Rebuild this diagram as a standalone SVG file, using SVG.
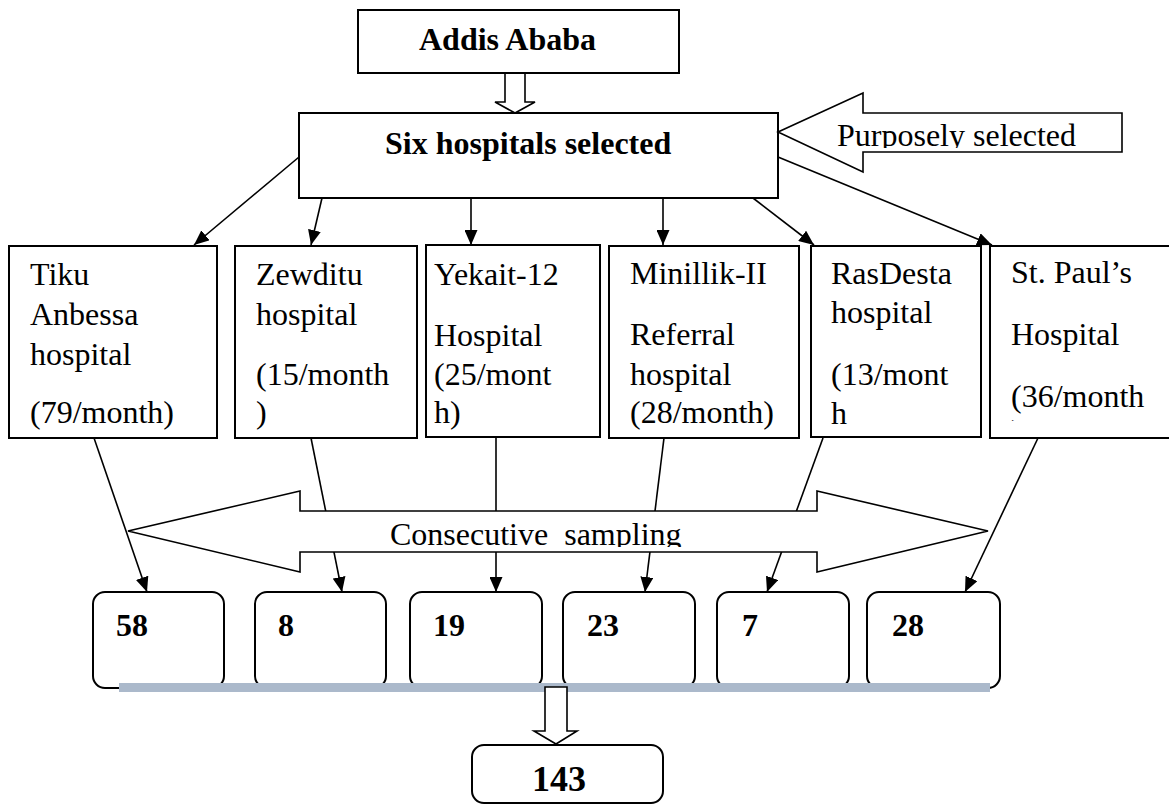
<svg xmlns="http://www.w3.org/2000/svg" width="1169" height="805" viewBox="0 0 1169 805">
<defs>
<style>
.box{fill:#fff;stroke:#000;stroke-width:2}
.rbox{fill:#fff;stroke:#000;stroke-width:2}
.hollow{fill:#fff;stroke:#000;stroke-width:1.6;stroke-linejoin:miter}
.conn{fill:none;stroke:#000;stroke-width:1.6}
.t{font-family:"Liberation Serif","Times New Roman",serif;font-size:32px;fill:#000}
.b{font-family:"Liberation Serif","Times New Roman",serif;font-size:32px;font-weight:bold;fill:#000}
</style>
<marker id="ah" markerUnits="userSpaceOnUse" markerWidth="16" markerHeight="13" refX="15" refY="6.5" orient="auto">
<path d="M0,0 L15,6.5 L0,13 z" fill="#000"/>
</marker>
<clipPath id="clipP"><rect x="830" y="100" width="290" height="48"/></clipPath>
<clipPath id="clipC"><rect x="380" y="505" width="320" height="42"/></clipPath>
<clipPath id="clipSP"><rect x="990" y="246" width="180" height="175"/></clipPath>
</defs>
<rect width="1169" height="805" fill="#fff"/>

<g id="connectors">
<line class="conn" x1="299" y1="157" x2="194" y2="245" marker-end="url(#ah)"/>
<line class="conn" x1="322" y1="198" x2="311" y2="245" marker-end="url(#ah)"/>
<line class="conn" x1="471" y1="198" x2="471" y2="245" marker-end="url(#ah)"/>
<line class="conn" x1="663" y1="198" x2="663" y2="245" marker-end="url(#ah)"/>
<line class="conn" x1="753" y1="198" x2="814" y2="245" marker-end="url(#ah)"/>
<line class="conn" x1="778" y1="157" x2="992" y2="245" marker-end="url(#ah)"/>
<line class="conn" x1="94" y1="438" x2="147" y2="592" marker-end="url(#ah)"/>
<line class="conn" x1="311" y1="438" x2="342" y2="592" marker-end="url(#ah)"/>
<line class="conn" x1="496" y1="437" x2="496" y2="592" marker-end="url(#ah)"/>
<line class="conn" x1="664" y1="438" x2="645" y2="592" marker-end="url(#ah)"/>
<line class="conn" x1="823" y1="438" x2="767" y2="592" marker-end="url(#ah)"/>
<line class="conn" x1="1038" y1="438" x2="965" y2="592" marker-end="url(#ah)"/>
<polygon class="hollow" points="505,73 525,73 525,102 535,102 515,113 495,102 505,102"/>
</g>

<g id="addis">
<rect class="box" x="358" y="10" width="321" height="63"/>
<text class="b" x="419" y="50">Addis Ababa</text>
</g>

<g id="six">
<rect class="box" x="299" y="113" width="479" height="85"/>
<text class="b" x="385" y="154">Six hospitals selected</text>
</g>

<g id="purposely">
<polygon class="hollow" points="778,132 863,93 863,113 1122,113 1122,152 863,152 863,172"/>
<text class="t" x="837" y="146" clip-path="url(#clipP)">Purposely selected</text>
</g>

<g id="tiku">
<rect class="box" x="9" y="246" width="208" height="192"/>
<text class="t"><tspan x="30" y="285">Tiku</tspan><tspan x="30" y="325">Anbessa</tspan><tspan x="30" y="365">hospital</tspan><tspan x="30" y="423">(79/month)</tspan></text>
</g>

<g id="zewditu">
<rect class="box" x="235" y="246" width="182" height="192"/>
<text class="t"><tspan x="256" y="285">Zewditu</tspan><tspan x="256" y="325">hospital</tspan><tspan x="256" y="385">(15/month</tspan><tspan x="256" y="423">)</tspan></text>
</g>

<g id="yekait">
<rect class="box" x="426" y="245" width="174" height="192"/>
<text class="t"><tspan x="434" y="285">Yekait-12</tspan><tspan x="434" y="346">Hospital</tspan><tspan x="434" y="385">(25/mont</tspan><tspan x="434" y="423">h)</tspan></text>
</g>

<g id="minillik">
<rect class="box" x="609" y="246" width="190" height="192"/>
<text class="t"><tspan x="630" y="284">Minillik-II</tspan><tspan x="630" y="345">Referral</tspan><tspan x="630" y="385">hospital</tspan><tspan x="630" y="423">(28/month)</tspan></text>
</g>

<g id="rasdesta">
<rect class="box" x="811" y="246" width="170" height="191"/>
<text class="t"><tspan x="831" y="284">RasDesta</tspan><tspan x="831" y="323">hospital</tspan><tspan x="831" y="385">(13/mont</tspan><tspan x="831" y="424">h</tspan></text>
</g>

<g id="stpaul">
<rect class="box" x="990" y="246" width="190" height="192"/>
<text class="t"><tspan x="1011" y="283">St. Paul’s</tspan><tspan x="1011" y="345">Hospital</tspan><tspan x="1011" y="407">(36/month</tspan></text>
<text class="t" x="1011" y="442" clip-path="url(#clipSP)">)</text>
</g>

<g id="consecutive">
<polygon class="hollow" points="128,531 300,491 300,511 817,511 817,491 988,531 817,572 817,552 300,552 300,572"/>
<text class="t" x="390" y="545" clip-path="url(#clipC)" xml:space="preserve">Consecutive  sampling</text>
</g>

<g id="n58"><rect class="rbox" x="93" y="592" width="131" height="96" rx="12"/><text class="b" x="116" y="636">58</text></g>
<g id="n8"><rect class="rbox" x="255" y="592" width="131" height="96" rx="12"/><text class="b" x="278" y="636">8</text></g>
<g id="n19"><rect class="rbox" x="410" y="592" width="132" height="96" rx="12"/><text class="b" x="433" y="636">19</text></g>
<g id="n23"><rect class="rbox" x="563" y="592" width="132" height="96" rx="12"/><text class="b" x="587" y="636">23</text></g>
<g id="n7"><rect class="rbox" x="717" y="592" width="132" height="96" rx="12"/><text class="b" x="742" y="636">7</text></g>
<g id="n28"><rect class="rbox" x="867" y="592" width="133" height="96" rx="12"/><text class="b" x="892" y="636">28</text></g>

<g id="bar">
<rect x="119" y="683" width="871" height="9" fill="#ABB9CB"/>
<polygon class="hollow" points="545,687 567,687 567,731 577,731 556,744 534,731 545,731"/>
</g>

<g id="total">
<rect class="rbox" x="472" y="745" width="191" height="58" rx="12"/>
<text class="b" x="532" y="791" style="font-size:36px">143</text>
</g>
</svg>
